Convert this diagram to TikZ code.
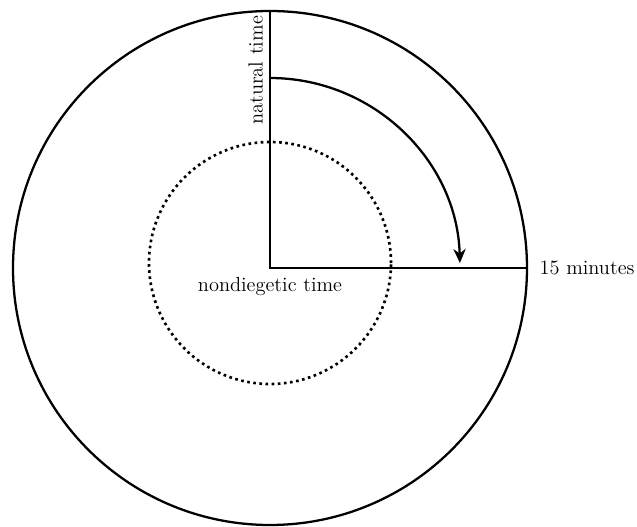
\documentclass[tikz,border=0pt]{standalone}
\usepackage{tikz}
\usetikzlibrary{positioning, arrows.meta}
\tikzset{
  ring/.style={draw, line width=1.3pt},
  inner/.style={draw, dotted, line width=1.5pt},
  axis/.style={line width=1.3pt},
  lbl/.style={font=\fontsize{11.6}{13}\selectfont, inner sep=1pt},
}

\begin{document}
\begin{tikzpicture}[x=0.02cm, y=-0.02cm, >={Stealth[length=8pt, width=7pt]}]
  \useasboundingbox (0,0) rectangle (637,527);
  \coordinate (o) at (270,268);
  \coordinate (top) at (270,11);
  \coordinate (rim) at (527,268);
  \coordinate (start) at (270,78);
  % circles
  \draw[ring] (o) circle[radius=257*0.02cm];
  \draw[inner] (270,263) circle[radius=121*0.02cm];
  % hands
  \draw[axis] (top) -- (o) -- (rim);
  \draw[axis, ->] (start) arc[start angle=90, end angle=1.5, radius=190*0.02cm];
  % labels
  \node[lbl, rotate=90, anchor=south east] (nat) at (265,14) {natural time};
  \node[lbl, anchor=north] (nd) at (o) [yshift=-4pt] {nondiegetic time};
  \node[lbl, anchor=west, right=6pt of rim] (fifteen) {15 minutes};
\end{tikzpicture}
\end{document}
